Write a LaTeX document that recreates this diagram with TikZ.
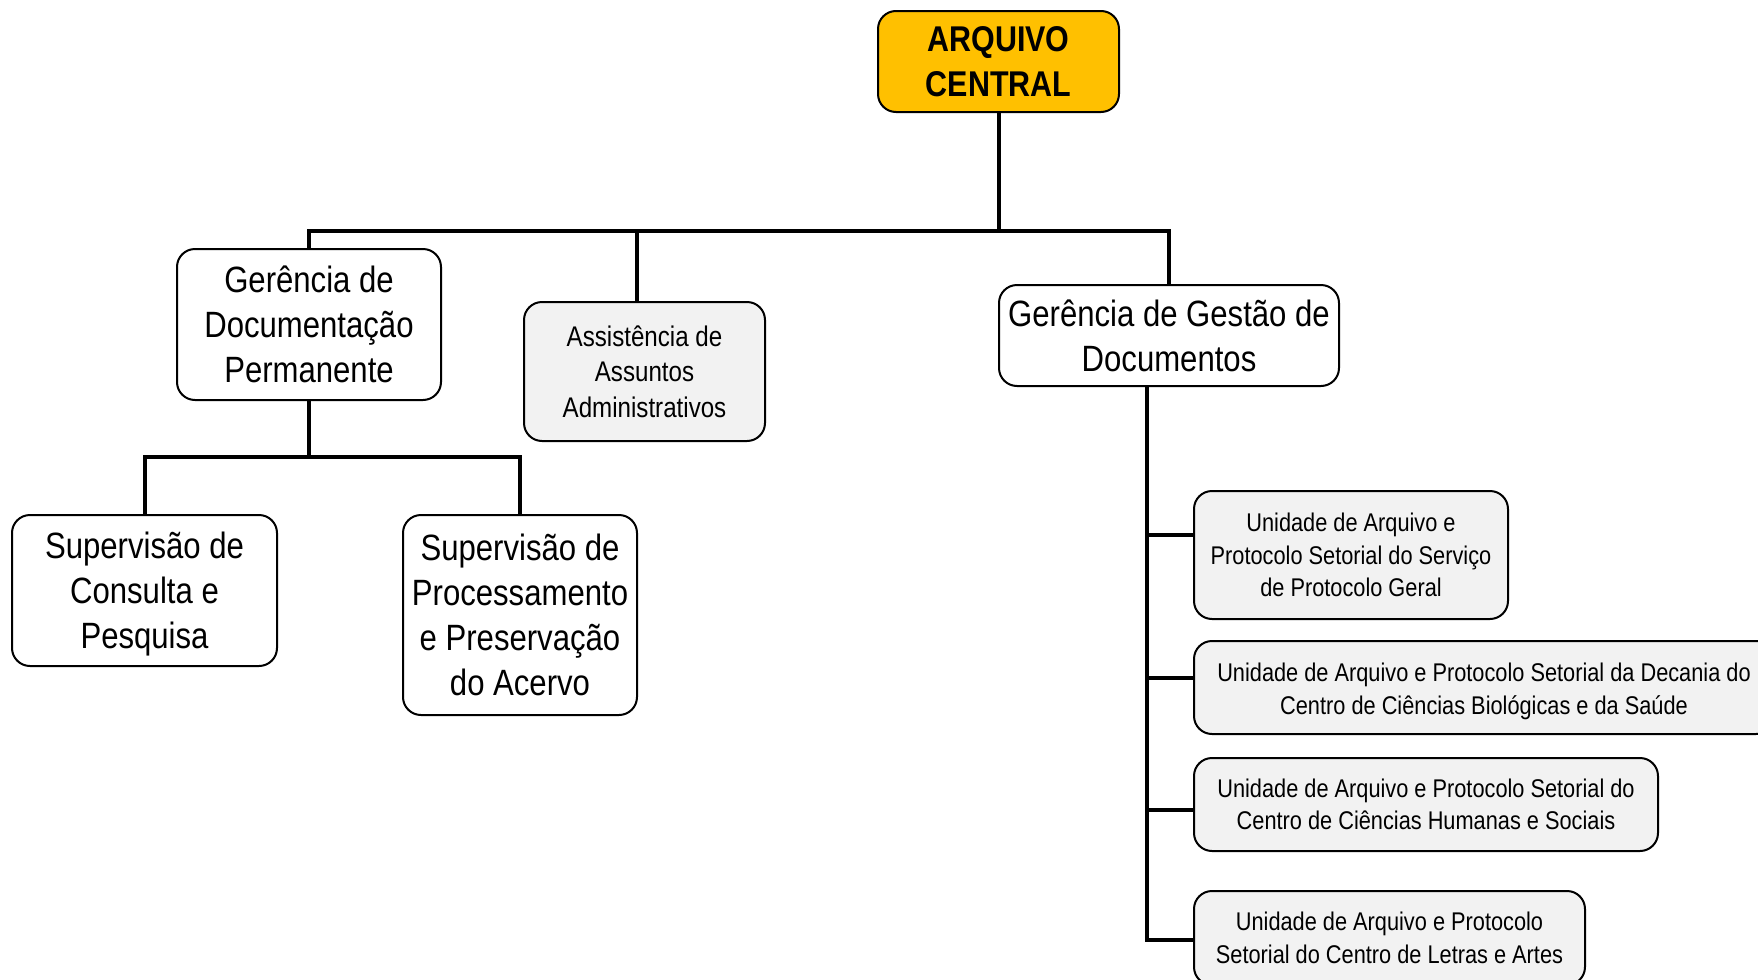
\documentclass[tikz,border=0pt]{standalone}
\usepackage{fontspec}
\setmainfont{Liberation Sans}[FakeStretch=0.85]
\definecolor{gold}{HTML}{FFC000}
\definecolor{lgray}{HTML}{F2F2F2}
\begin{document}
\begin{tikzpicture}[x=0.5pt,y=-0.5pt,
  box/.style={draw=black, line width=1pt, rounded corners=9pt, fill=white, inner sep=0pt, align=center},
  graybox/.style={box, fill=lgray},
  bigtxt/.style={font=\fontsize{18.3}{22.6}\selectfont},
  midtxt/.style={font=\fontsize{14.2}{17.8}\selectfont},
  smalltxt/.style={font=\fontsize{12.8}{16.3}\selectfont},
  conn/.style={draw=black, line width=2pt}]
\clip (0,0) rectangle (1758,980);
\fill[white] (0,0) rectangle (1758,980);

% nodes
\node[box, fill=gold, minimum width=120.5pt, minimum height=50.5pt,
      font=\fontsize{17.9}{22.4}\selectfont\bfseries] (ac) at (998.5,61.5) {ARQUIVO\\CENTRAL};
\node[box, bigtxt, minimum width=132pt, minimum height=75.5pt] (gdp) at (309,324.5) {Gerência de\\Documentação\\Permanente};
\node[graybox, midtxt, minimum width=120.5pt, minimum height=69.5pt] (aaa) at (644.5,371.5) {Assistência de\\Assuntos\\Administrativos};
\node[box, bigtxt, minimum width=170pt, minimum height=50.5pt] (ggd) at (1169,335.5) {Gerência de Gestão de\\Documentos};
\node[box, bigtxt, minimum width=132.5pt, minimum height=75.5pt] (scp) at (144.5,590.5) {\rule{0pt}{17pt}Supervisão de\\Consulta e\\Pesquisa};
\node[box, bigtxt, minimum width=117pt, minimum height=100pt] (spp) at (520,615) {Supervisão de\\Processamento\\e Preservação\\do Acervo};
\node[graybox, smalltxt, minimum width=157pt, minimum height=64pt] (u1) at (1351,555) {Unidade de Arquivo e\\Protocolo Setorial do Serviço\\de Protocolo Geral};
\node[graybox, smalltxt, minimum width=290pt, minimum height=46.5pt] (u2) at (1484,687.5) {\rule{0pt}{13pt}Unidade de Arquivo e Protocolo Setorial da Decania do\\Centro de Ciências Biológicas e da Saúde};
\node[graybox, smalltxt, minimum width=232pt, minimum height=46.5pt] (u3) at (1426,804.5) {Unidade de Arquivo e Protocolo Setorial do\\Centro de Ciências Humanas e Sociais};
\node[graybox, smalltxt, minimum width=195.5pt, minimum height=47pt] (u4) at (1389.5,938) {Unidade de Arquivo e Protocolo\\Setorial do Centro de Letras e Artes};

% connectors
\coordinate (busL) at (309,231);
\coordinate (busR) at (1169,231);
\coordinate (sub) at (309,457);
\coordinate (aaaTop) at ([xshift=-3.75pt]aaa.north);
\coordinate (spTop) at ([xshift=-11pt]ggd.south);
\coordinate (b1) at ([yshift=10pt]u1.west);
\coordinate (b2) at ([yshift=4.75pt]u2.west);
\coordinate (b3) at ([yshift=-2.75pt]u3.west);
\coordinate (b4) at ([yshift=-1pt]u4.west);

\draw[conn] (ac.south) -- (ac.south |- busL);
\draw[conn] (gdp.north) -- (busL) -- (busR) -- (ggd.north);
\draw[conn] (aaaTop) -- (aaaTop |- busL);
\draw[conn] (gdp.south) -- (sub);
\draw[conn] (scp.north) -- (scp.north |- sub) -- (spp.north |- sub) -- (spp.north);
\draw[conn] (spTop) |- (b4);
\draw[conn] (b1) -- (spTop |- b1);
\draw[conn] (b2) -- (spTop |- b2);
\draw[conn] (b3) -- (spTop |- b3);
\end{tikzpicture}
\end{document}
